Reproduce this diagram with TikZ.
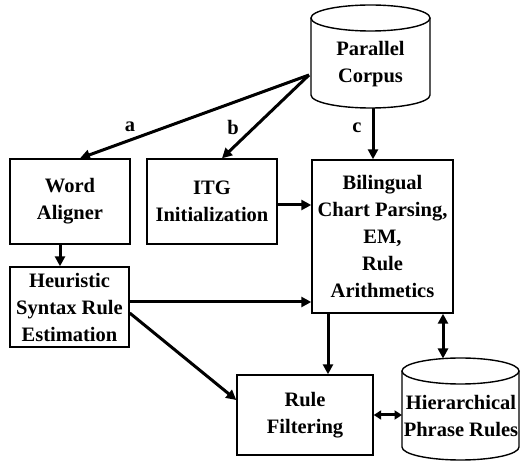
\documentclass[tikz,border=0pt]{standalone}
\usepackage{fontspec}
\setmainfont{Liberation Serif}
\usetikzlibrary{arrows.meta,calc}
\begin{document}
\begin{tikzpicture}[x=1pt,y=-1pt,
  box/.style={draw, line width=1.4pt, inner sep=0pt, align=center, font=\bfseries\fontsize{20.5}{27}\selectfont},
  txt/.style={inner sep=0pt, align=center, font=\bfseries\fontsize{20.5}{27}\selectfont},
  lab/.style={inner sep=0pt, font=\bfseries\fontsize{20.5}{24}\selectfont},
  cyl/.style={draw, line width=1.4pt},
  arr/.style={line width=3pt, -{Triangle[length=10pt,width=10pt]}},
  darr/.style={line width=3pt, {Triangle[length=10pt,width=10pt]}-{Triangle[length=10pt,width=10pt]}},
  sdarr/.style={line width=3pt, {Triangle[length=7.5pt,width=9pt]}-{Triangle[length=7.5pt,width=9pt]}}]
\useasboundingbox (0,0) rectangle (520,462);

% Parallel Corpus cylinder
\draw[cyl] (311,18) -- (311,95) arc[start angle=180,end angle=0,x radius=59.5,y radius=13] -- (430,18);
\draw[cyl] (370.5,18) ellipse[x radius=59.5,y radius=13];
\node[txt] (pc) at (370.5,64) {Parallel\\Corpus};
\coordinate (pcl) at (309,75);
\coordinate (pcb) at (373,108);

% Hierarchical Phrase Rules cylinder
\draw[cyl] (402,371) -- (402,447) arc[start angle=180,end angle=0,x radius=58.5,y radius=13] -- (519,371);
\draw[cyl] (460.5,371) ellipse[x radius=58.5,y radius=13];
\node[txt] (hpr) at (461,416) {Hierarchical\\Phrase Rules};
\coordinate (hprtop) at (443,358.5);
\coordinate (hprl) at (402,415);

% Boxes
\node[box, minimum width=120pt, minimum height=85pt] (wa) at (70,201.5) {Word\\Aligner};
\node[box, minimum width=130pt, minimum height=85pt] (itg) at (212,201.5) {ITG\\Initialization};
\node[box, minimum width=141pt, minimum height=153pt] (bcp) at (382.5,236.5) {Bilingual\\Chart Parsing,\\EM,\\Rule\\Arithmetics};
\node[box, minimum width=119pt, minimum height=80pt] (hse) at (69.5,307) {Heuristic\\Syntax Rule\\Estimation};
\node[box, minimum width=136pt, minimum height=80pt] (rf) at (305,415) {Rule\\Filtering};

% Arrows
\draw[arr] (pcl) -- ($(wa.north)+(10,0)$);
\draw[arr] (pcl) -- ($(itg.north)+(10,0)$);
\draw[arr] (pcb) -- ($(bcp.north)+(-9.5,0)$);
\node[lab] (la) at (130,127) {a};
\node[lab] (lb) at (233,127) {b};
\node[lab] (lc) at (357,128) {c};

\draw[arr] ($(itg.east)+(0,3.5)$) -- ($(bcp.west)+(0,-31.5)$);
\draw[arr] ($(wa.south)+(-10,0)$) -- ($(hse.north)+(-9.5,0)$);
\draw[arr] ($(hse.east)+(0,-5)$) -- ($(bcp.west)+(0,65.5)$);
\draw[arr] ($(hse.east)+(0,6)$) -- ($(rf.west)+(0,-15)$);
\draw[arr] ($(bcp.south)+(-54.5,0)$) -- ($(rf.north)+(23,0)$);
\draw[darr] ($(bcp.south)+(60.5,0)$) -- (hprtop);
\draw[sdarr] (rf.east) -- (hprl);
\end{tikzpicture}
\end{document}
